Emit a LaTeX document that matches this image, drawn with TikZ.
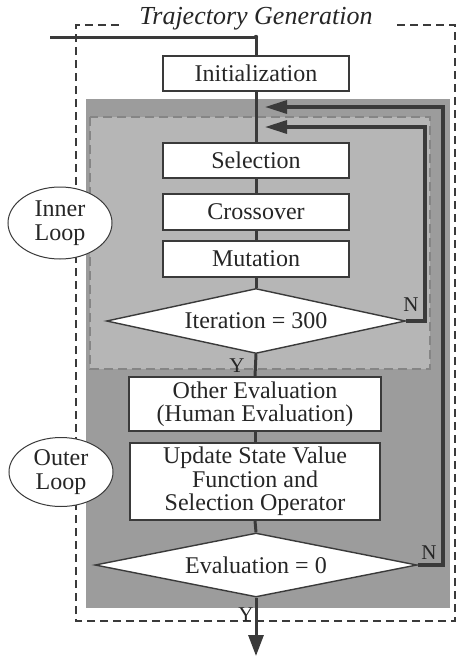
\documentclass[tikz,border=0pt]{standalone}
\usepackage{fontspec}
\setmainfont{Liberation Serif}
\usetikzlibrary{shapes.geometric,arrows.meta}
\definecolor{ink}{HTML}{3A3A3A}
\definecolor{textink}{HTML}{262626}
\definecolor{outerfill}{HTML}{9C9C9C}
\definecolor{innerfill}{HTML}{B6B6B6}
\definecolor{innerdash}{HTML}{858585}
\begin{document}
\begin{tikzpicture}[x=1pt,y=-1pt,
  txt/.style={font=\fontsize{24}{23.5}\selectfont, text=textink},
  stepbox/.style={txt, draw=ink, line width=1.4pt, fill=white, inner sep=0pt, align=center},
  decision/.style={txt, diamond, draw=ink, line width=1.4pt, fill=white, inner sep=0pt, aspect=4.8},
  loopnote/.style={txt, ellipse, draw=ink, line width=1pt, fill=white, inner sep=0pt, align=center},
  flow/.style={draw=ink, line width=3pt},
  back/.style={draw=ink, line width=3.2pt, -{Triangle[length=22pt,width=13pt]}},
  tag/.style={font=\fontsize{21}{21}\selectfont, text=textink, inner sep=0pt}
]
\useasboundingbox (0,0) rectangle (456,659);

% dashed frame of the trajectory generation block, open where the title sits
\draw[ink, line width=1.3pt, dash pattern=on 8pt off 5pt]
  (397,25) -- (455,25) -- (455,621) -- (76,621) -- (76,25) -- (120,25);
\node[font=\fontsize{26}{26}\selectfont\itshape, text=textink, anchor=base] (title) at (256,24) {Trajectory Generation};

% shaded loop regions
\fill[outerfill] (86,99) rectangle (450,608);
\draw[innerdash, fill=innerfill, line width=1.4pt, dash pattern=on 9pt off 5pt] (90,117) rectangle (430,369);

% loop labels
\node[loopnote, minimum width=104pt, minimum height=72pt] (innerlbl) at (60,223) {Inner\\Loop};
\node[loopnote, minimum width=104pt, minimum height=69pt] (outerlbl) at (61,472) {Outer\\Loop};

% flow steps
\node[stepbox, minimum width=186pt, minimum height=35pt] (init) at (256,73.5) {Initialization};
\node[stepbox, minimum width=186pt, minimum height=35pt] (sel) at (256,160.5) {Selection};
\node[stepbox, minimum width=186pt, minimum height=36pt] (cross) at (256,212) {Crossover};
\node[stepbox, minimum width=186pt, minimum height=36pt] (mut) at (256,259) {Mutation};
\node[decision, minimum width=299pt, minimum height=65pt] (iter) at (256,321) {Iteration = 300};
\node[stepbox, minimum width=252pt, minimum height=54pt] (oe) at (255,404) {Other Evaluation\\(Human Evaluation)};
\node[stepbox, minimum width=250pt, minimum height=77pt] (upd) at (255,481.5) {Update State Value\\Function and\\Selection Operator};
\node[decision, minimum width=322pt, minimum height=64pt] (eval) at (256,565) {Evaluation = 0};

% helper points
\coordinate (start) at (50,37);
\coordinate (corner) at (256,37);
\coordinate (innerR) at (425,127);
\coordinate (innerTip) at (265,127);
\coordinate (outerR) at (443,107);
\coordinate (outerTip) at (265,107);
\coordinate (finish) at (256,656);

% main flow
\draw[flow] (start) -- (corner) -- (init.north);
\fill[ink] (corner) circle (2.2pt);
\draw[flow] (init.south) -- (sel.north);
\draw[flow] (sel.south) -- (cross.north);
\draw[flow] (cross.south) -- (mut.north);
\draw[flow] (mut.south) -- (iter.north);
\draw[flow] (iter.south) -- (oe.north);
\draw[flow] (oe.south) -- (upd.north);
\draw[flow] (upd.south) -- (eval.north);
\draw[flow, -{Triangle[length=21pt,width=15pt]}] (eval.south) -- (finish);

% feedback loops
\draw[back] (iter.east) -| (innerR) -- (innerTip);
\draw[back] (eval.east) -| (outerR) -- (outerTip);

% branch tags
\node[tag] (n1) at (411,305) {N};
\node[tag] (y1) at (237,366) {Y};
\node[tag] (n2) at (429,553) {N};
\node[tag] (y2) at (246,615) {Y};
\end{tikzpicture}
\end{document}
